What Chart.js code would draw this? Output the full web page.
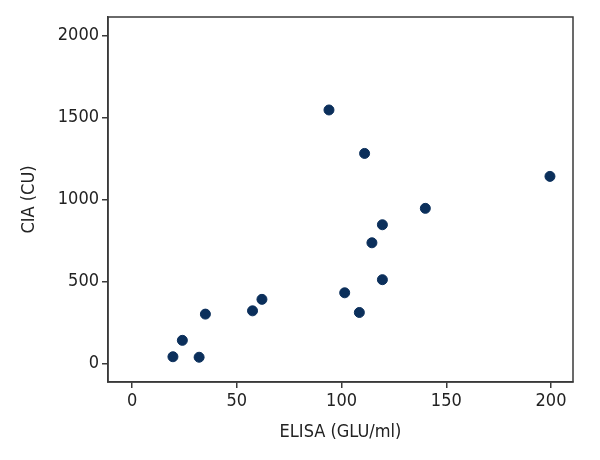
<!DOCTYPE html>
<html>
<head>
<meta charset="utf-8">
<script src="https://cdn.jsdelivr.net/npm/chart.js@4/dist/chart.umd.min.js"></script>
<style>
  html, body { margin: 0; padding: 0; background: #fff; }
  #wrap { width: 600px; height: 460px; }
</style>
</head>
<body>
<div id="wrap"><canvas id="chart" width="600" height="460"></canvas></div>
<script>
// ELISA vs CIA values
let elisa = [19.5, 24, 32, 35, 57.5, 62, 94, 101.5, 108.5, 111, 114.5, 119.5, 119.5, 140, 199.5];
let cia   = [40, 140, 37, 300, 320, 390, 1545, 430, 310, 1280, 735, 845, 510, 945, 1140];
let xTicks = [0, 50, 100, 150, 200];
let yTicks = [0, 500, 1000, 1500, 2000];

let points = [];
for (let i = 0; i < elisa.length; i++) {
  points.push({x: elisa[i], y: cia[i]});
}

const fontFam = "'Liberation Sans Narrow', 'Arial Narrow', 'DejaVu Sans Condensed', sans-serif";
const axisColor = '#3a3a3a';

// box around plot area (top & right sides)
const frame = {
  id: 'frame',
  afterDraw(chart) {
    let a = chart.chartArea;
    let ctx = chart.ctx;
    ctx.save();
    ctx.strokeStyle = axisColor;
    ctx.lineWidth = 1.5;
    ctx.strokeRect(a.left, a.top, a.right - a.left, a.bottom - a.top);
    ctx.restore();
  }
};

let ctx = document.getElementById('chart').getContext('2d');
let chart = new Chart(ctx, {
  type: 'scatter',
  data: {
    datasets: [{
      data: points,
      backgroundColor: '#0b2f5b',
      borderColor: '#0b2f5b',
      pointRadius: 5,
      pointHoverRadius: 5
    }]
  },
  options: {
    responsive: false,
    animation: false,
    layout: { padding: { left: 0, top: 17, right: 27, bottom: 0 } },
    plugins: { legend: { display: false }, tooltip: { enabled: false } },
    scales: {
      x: {
        type: 'linear',
        min: -11.5,
        max: 210.5,
        afterBuildTicks: (s) => { s.ticks = xTicks.map(v => ({value: v})); },
        afterFit: (s) => { s.height = 78; },
        grid: { drawOnChartArea: false, drawTicks: true, tickLength: 6, color: axisColor, lineWidth: 1.5 },
        border: { color: axisColor, width: 1.5 },
        ticks: { color: '#222', padding: 3, font: { family: fontFam, size: 18 }, callback: (v) => String(v) },
        title: { display: true, text: 'ELISA (GLU/ml)', color: '#222', padding: { bottom: 17 }, font: { family: fontFam, size: 18 } }
      },
      y: {
        type: 'linear',
        min: -114,
        max: 2112,
        afterBuildTicks: (s) => { s.ticks = yTicks.map(v => ({value: v})); },
        afterFit: (s) => { s.width = 108; },
        grid: { drawOnChartArea: false, drawTicks: true, tickLength: 6, color: axisColor, lineWidth: 1.5 },
        border: { color: axisColor, width: 1.5 },
        ticks: { color: '#222', padding: 3, font: { family: fontFam, size: 18 }, callback: (v) => String(v) },
        title: { display: true, text: 'CIA (CU)', color: '#222', padding: { top: 19 }, font: { family: fontFam, size: 18 } }
      }
    }
  },
  plugins: [frame]
});
</script>
</body>
</html>
